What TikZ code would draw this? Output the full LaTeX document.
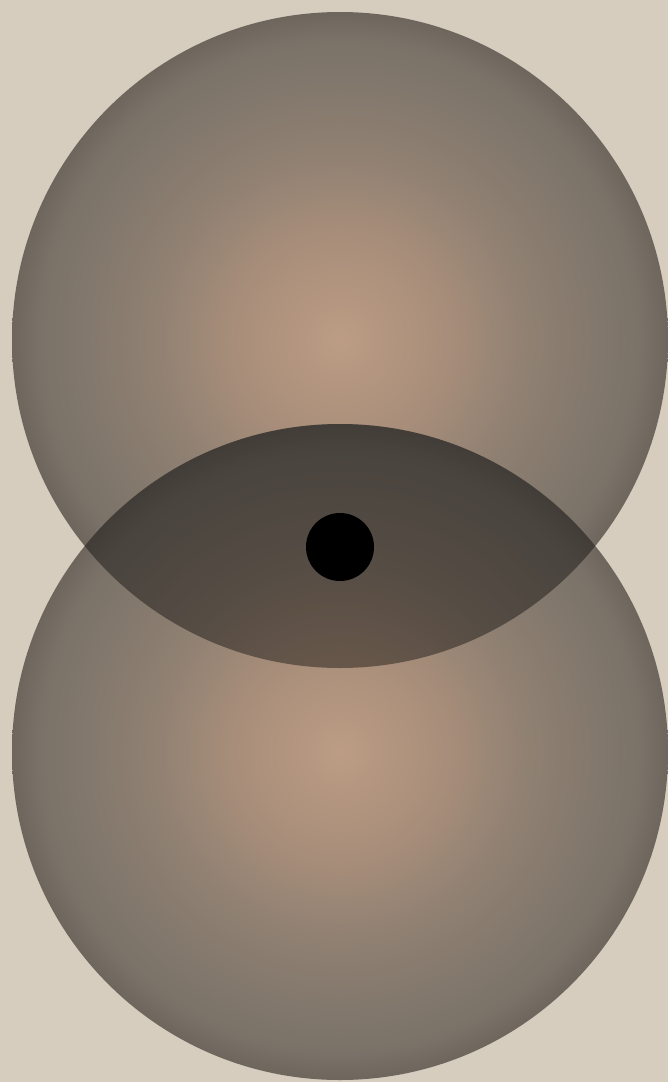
\documentclass[tikz,border=0pt]{standalone}
\usetikzlibrary{shapes.geometric}
\definecolor{bg}{HTML}{D6CDBF}
\definecolor{cin}{HTML}{BC9C84}
\definecolor{cmid}{HTML}{A88E7A}
\definecolor{cout}{HTML}{8F8072}
\definecolor{crim}{HTML}{7A7268}
\definecolor{cedge}{HTML}{6E665D}
\pgfdeclareradialshading{disc}{\pgfpoint{0bp}{0bp}}{color(0bp)=(cin); color(8bp)=(cmid); color(14.5bp)=(cout); color(23bp)=(crim); color(25bp)=(cedge); color(50bp)=(cedge)}
\tikzset{
  disc/.style={shading=disc},
  lensfill/.style={fill=black, fill opacity=0.40},
  dot/.style={circle, fill=black, minimum size=68pt, inner sep=0pt}
}
\begin{document}
\begin{tikzpicture}[x=1pt,y=-1pt]
\fill[bg] (0,0) rectangle (668,1082);
\useasboundingbox (0,0) rectangle (668,1082);
\shade[disc] (340,340) circle (328);
\shade[disc] (340,752) circle (328);
\begin{scope}
  \clip (340,340) circle (328);
  \fill[lensfill] (340,752) circle (328);
\end{scope}
\node[dot] (d) at (340,547) {};
\end{tikzpicture}
\end{document}
